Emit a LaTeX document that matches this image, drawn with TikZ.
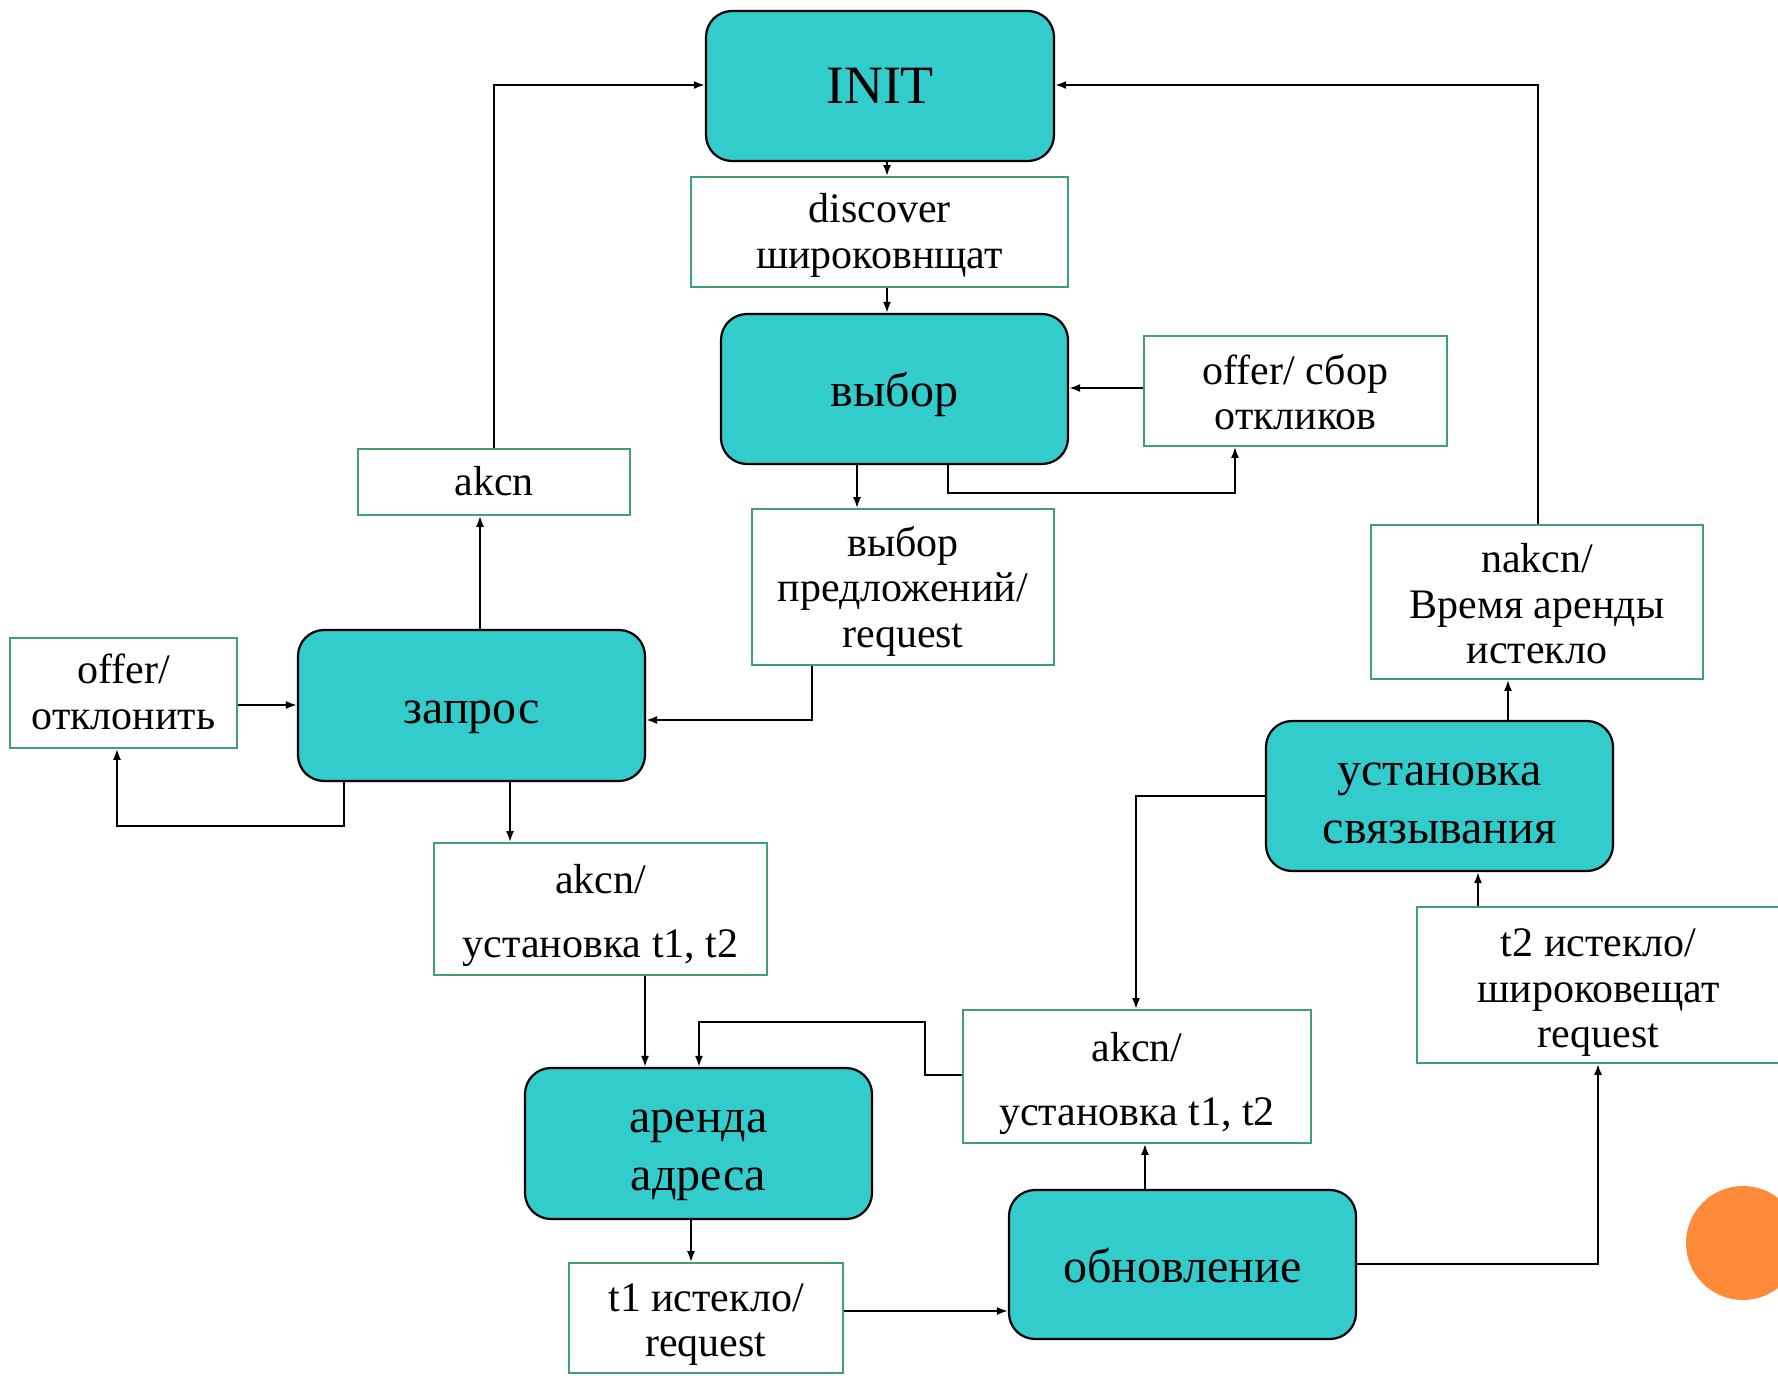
\documentclass[tikz,border=0pt]{standalone}
\usepackage{fontspec}
\setmainfont{Liberation Serif}
\usetikzlibrary{arrows.meta}
\definecolor{stfill}{RGB}{51,204,204}
\definecolor{lblgreen}{RGB}{64,160,110}
\definecolor{dotorange}{RGB}{255,138,58}
% text block whose first baseline is raised by #1 from the node centre
\newcommand{\ctext}[2]{\raisebox{#1}[0pt][0pt]{\begin{tabular}[t]{@{}c@{}}#2\end{tabular}}}
\tikzset{
  x=0.5pt, y=-0.5pt,
  state/.style={draw=black, line width=1.1pt, fill=stfill, rounded corners=13pt,
    align=center, inner sep=0pt, font=\fontsize{24}{29}\selectfont},
  lbl/.style={draw=lblgreen, line width=0.9pt, fill=white, align=center, inner sep=0pt,
    font=\fontsize{21}{22.7}\selectfont},
  arr/.style={draw=black, line width=0.9pt, -{Latex[length=5.5pt,width=4pt]}},
}
\begin{document}
\begin{tikzpicture}
\useasboundingbox (0,0) rectangle (1778,1376);
% states
\node[state, minimum width=174pt, minimum height=75pt, font=\fontsize{27}{30}\selectfont] (init) at (880,86) {\ctext{-8.6pt}{INIT}};
\node[state, minimum width=173.5pt, minimum height=75pt] (vybor) at (894.5,389) {\ctext{-8.6pt}{выбор}};
\node[state, minimum width=173.5pt, minimum height=75.5pt] (zapros) at (471.5,705.5) {\ctext{-9.2pt}{запрос}};
\node[state, minimum width=173.5pt, minimum height=75pt] (ustsv) at (1439.5,796) {\ctext{5.1pt}{установка\\связывания}};
\node[state, minimum width=173.5pt, minimum height=75.5pt] (arenda) at (698.5,1143.5) {\ctext{5.3pt}{аренда\\адреса}};
\node[state, minimum width=173.5pt, minimum height=74.5pt] (obnov) at (1182.5,1264.5) {\ctext{-9.2pt}{обновление}};
% labels
\node[lbl, minimum width=188.5pt, minimum height=55pt] (disc) at (879.5,232) {\ctext{4.6pt}{discover\\широковнщат}};
\node[lbl, minimum width=151.5pt, minimum height=55pt] (offer1) at (1295.5,391) {\ctext{3.4pt}{offer/ сбор\\откликов}};
\node[lbl, minimum width=136pt, minimum height=33pt] (akcn1) at (494,482) {\ctext{-6.5pt}{akcn}};
\node[lbl, minimum width=151pt, minimum height=78pt] (vybpred) at (903,587) {\ctext{15.4pt}{выбор\\предложений/\\request}};
\node[lbl, minimum width=166pt, minimum height=77pt] (nakcn) at (1537,602) {\ctext{14.6pt}{nakcn/\\Время аренды\\истекло}};
\node[lbl, minimum width=113.5pt, minimum height=55pt] (offer2) at (123.5,693) {\ctext{4.6pt}{offer/\\отклонить}};
\node[lbl, minimum width=166.5pt, minimum height=66pt, font=\fontsize{21}{32}\selectfont] (akcn2) at (600.5,909) {\ctext{8.0pt}{akcn/\\установка t1, t2}};
\node[lbl, minimum width=181.5pt, minimum height=78pt] (t2) at (1598.5,985) {\ctext{14.2pt}{t2 истекло/\\широковещат\\request}};
\node[lbl, minimum width=174pt, minimum height=66.5pt, font=\fontsize{21}{32}\selectfont] (akcn3) at (1137,1076.5) {\ctext{7.6pt}{akcn/\\установка t1, t2}};
\node[lbl, minimum width=137pt, minimum height=55pt] (t1) at (706,1318) {\ctext{3.4pt}{t1 истекло/\\request}};
% orange dot
\fill[dotorange] (1743,1243) circle (28.5pt);
% connectors
\draw[arr] (init.south -| 887,0) -- (disc.north -| 887,0);
\draw[arr] (disc.south -| 887,0) -- (vybor.north -| 887,0);
\draw[arr] (offer1.west |- 0,388) -- (vybor.east |- 0,388);
\draw[arr] (vybor.south -| 948,0) -- (948,493) -| (offer1.south -| 1235,0);
\draw[arr] (vybor.south -| 857,0) -- (vybpred.north -| 857,0);
\draw[arr] (vybpred.south -| 812,0) |- (zapros.east |- 0,720);
\draw[arr] (zapros.north -| 480,0) -- (akcn1.south -| 480,0);
\draw[arr] (akcn1.north -| 494,0) |- (init.west |- 0,85);
\draw[arr] (offer2.east |- 0,705) -- (zapros.west |- 0,705);
\draw[arr] (zapros.south -| 344,0) -- (344,826) -| (offer2.south -| 117,0);
\draw[arr] (zapros.south -| 510,0) -- (akcn2.north -| 510,0);
\draw[arr] (akcn2.south -| 645,0) -- (arenda.north -| 645,0);
\draw[arr] (akcn3.west |- 0,1075) -- (925,1075) -- (925,1022) -| (arenda.north -| 699,0);
\draw[arr] (ustsv.west |- 0,796) -| (akcn3.north -| 1136,0);
\draw[arr] (obnov.north -| 1145,0) -- (akcn3.south -| 1145,0);
\draw[arr] (arenda.south -| 691,0) -- (t1.north -| 691,0);
\draw[arr] (t1.east |- 0,1311) -- (obnov.west |- 0,1311);
\draw[arr] (obnov.east |- 0,1264) -| (t2.south -| 1598,0);
\draw[arr] (t2.north -| 1478,0) -- (ustsv.south -| 1478,0);
\draw[arr] (ustsv.north -| 1508,0) -- (nakcn.south -| 1508,0);
\draw[arr] (nakcn.north -| 1538,0) |- (init.east |- 0,85);
\end{tikzpicture}
\end{document}
